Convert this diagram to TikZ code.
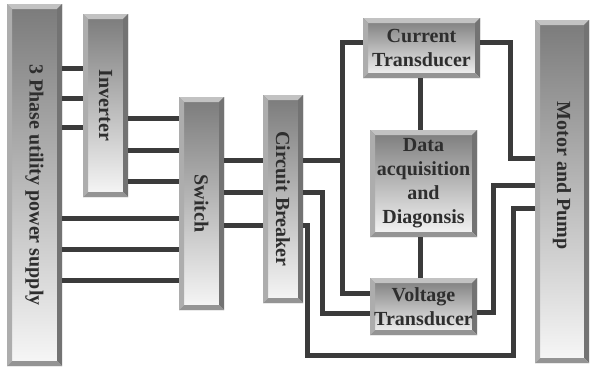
\documentclass[tikz,border=0pt]{standalone}
\usepackage{fontspec}
\setmainfont{Liberation Serif}
\usepackage{tikz}
\usetikzlibrary{positioning, calc}

\newcommand{\boxfont}{\bfseries\fontsize{20pt}{24pt}\selectfont}
% bevelled rim drawn over the shaded face of each block
\newcommand{\bevel}{%
  \path (path picture bounding box.north west) coordinate (bnw)
        (path picture bounding box.north east) coordinate (bne)
        (path picture bounding box.south west) coordinate (bsw)
        (path picture bounding box.south east) coordinate (bse);
  \fill[black!24] (bnw) -- (bne) -- ([shift={(-5pt,-5pt)}]bne) --
        ([shift={(5pt,-5pt)}]bnw) -- cycle;
  \fill[black!32] (bnw) -- (bsw) -- ([shift={(5pt,5pt)}]bsw) --
        ([shift={(5pt,-5pt)}]bnw) -- cycle;
  \fill[black!55] (bne) -- (bse) -- ([shift={(-5pt,5pt)}]bse) --
        ([shift={(-5pt,-5pt)}]bne) -- cycle;
  \fill[black!42] (bsw) -- (bse) -- ([shift={(-5pt,5pt)}]bse) --
        ([shift={(5pt,5pt)}]bsw) -- cycle;}

\begin{document}
\begin{tikzpicture}[x=1pt, y=-1pt, block/.style={top color=black!52,
      bottom color=black!3, text=black!82, font=\boxfont, align=center,
      inner sep=0pt, path picture={\bevel}}, wire/.style={line width=5pt,
      black!77, line join=miter} ]

    \useasboundingbox (0,0) rectangle (592,367);

    % Supply side blocks
    \node[block, minimum width=55pt, minimum height=362pt] (supply) at
    (34.5,185) {\rotatebox{-90}{3 Phase utility power supply}};
    \node[block, minimum width=45pt, minimum height=183pt] (inverter) at
    (105.5,105.5) {\rotatebox{-90}{Inverter}};
    \node[block, minimum width=45pt, minimum height=213pt] (switch) at
    (201.5,203.5) {\rotatebox{-90}{Switch}};
    \node[block, minimum width=40pt, minimum height=208pt] (breaker) at
    (283,199) {\rotatebox{-90}{Circuit Breaker}};

    % Measurement blocks
    \node[block, minimum width=117pt, minimum height=60pt] (current) at
    (421.5,48) {Current\\Transducer};
    \node[block, minimum width=107pt, minimum height=107pt] (daq) at
    (423.5,183.5) {Data\\acquisition\\and\\Diagonsis};
    \node[block, minimum width=107pt, minimum height=57pt] (voltage) at
    (423.5,306.5) {Voltage\\Transducer};

    % Load, label sits a little above the middle
    \node[block, minimum width=54pt, minimum height=343pt] (motor) at
    (562,191.5) {\rotatebox{-90}{Motor and Pump\hspace{32pt}}};

    % Three phase lines between the blocks
    \foreach \y in {68,98,127} \draw[wire] (supply.east |- 0,\y) --
    (inverter.west |- 0,\y);
    \foreach \y in {118,150,181} \draw[wire] (inverter.east |- 0,\y) --
    (switch.west |- 0,\y);
    \foreach \y in {218,249,280} \draw[wire] (supply.east |- 0,\y) --
    (switch.west |- 0,\y);
    \foreach \y in {160,192,225} \draw[wire] (switch.east |- 0,\y) --
    (breaker.west |- 0,\y);

    % Breaker outputs
    \coordinate (bus) at (342,160);
    \draw[wire] (breaker.east |- bus) -- (bus);
    \draw[wire] (current.west |- 0,42) -| (bus) |- (voltage.west |- 0,293);
    \draw[wire] (breaker.east |- 0,192) -- ++(19,0) |- (voltage.west |- 0,313);
    \draw[wire] (breaker.east |- 0,225) -- ++(4,0) |- (513,355) |-
    (motor.west |- 0,208);

    % Transducers to the motor
    \draw[wire] (current.east |- 0,42) -- ++(30,0) |- (motor.west |- 0,158);
    \draw[wire] (voltage.east |- 0,312) -- ++(16,0) |- (motor.west |- 0,185);

    % Signals to the acquisition block
    \draw[wire] (current.south -| 420,0) -- (daq.north -| 420,0);
    \draw[wire] (daq.south -| 420,0) -- (voltage.north -| 420,0);

\end{tikzpicture}
\end{document}
